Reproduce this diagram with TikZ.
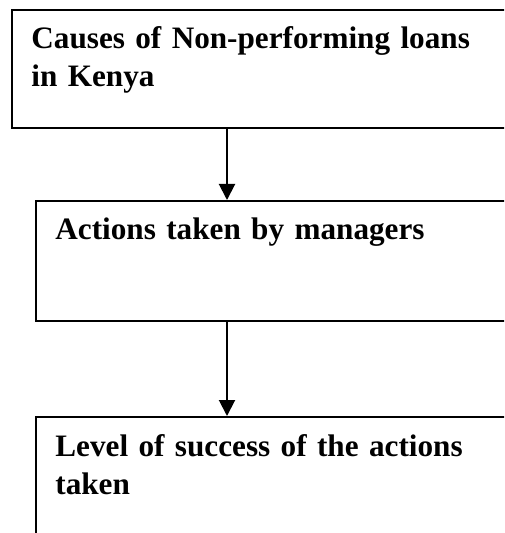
\documentclass[tikz,border=0pt]{standalone}
\usepackage{fontspec}
\setmainfont{Liberation Serif}
\usetikzlibrary{arrows.meta,positioning}

\begin{document}
\begin{tikzpicture}[x=0.5pt,y=-0.5pt]
\tikzstyle{stagebox}=[draw=black,line width=1pt,rectangle,minimum width=260pt,inner sep=0pt,anchor=north west]
\tikzstyle{stagetext}=[anchor=base west,inner sep=0pt,text width=240pt,align=left,font=\fontsize{15.6}{19}\selectfont\bfseries]
\tikzstyle{arrow}=[line width=1pt,-{Triangle[width=8pt,length=8pt]}]
\clip (0,0) rectangle (504,533);
\node [stagebox,minimum height=59pt] at (11,9) (causes) {};
\node [stagebox,minimum height=60pt] at (35,200) (actions) {};
\node [stagebox,minimum height=70pt] at (35,416) (success) {};
\node [stagetext] at ([shift={(20,40)}]causes.north west) (causestxt) {Causes of Non-performing loans\\in Kenya};
\node [stagetext] at ([shift={(20,40)}]actions.north west) (actionstxt) {Actions taken by managers};
\node [stagetext] at ([shift={(20,40)}]success.north west) (successtxt) {Level of success of the actions\\taken};
\coordinate (mid) at (227,0);
\draw [arrow] (causes.south -| mid) -- (actions.north -| mid);
\draw [arrow] (actions.south -| mid) -- (success.north -| mid);
\end{tikzpicture}
\end{document}
